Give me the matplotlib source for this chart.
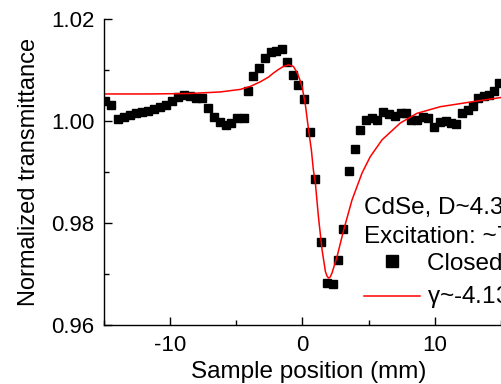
import matplotlib
matplotlib.use("Agg")
import matplotlib.pyplot as plt
from matplotlib.lines import Line2D
from matplotlib.ticker import MultipleLocator, FormatStrFormatter

plt.rcParams['font.family'] = ['Liberation Sans', 'DejaVu Sans']
plt.rcParams['axes.unicode_minus'] = False

# ---- measured points (closed aperture z-scan) ----
pos = [-14.94, -14.49, -13.96, -13.51, -13.06, -12.60, -12.15, -11.70, -11.25, -10.79,
       -10.34, -9.89, -9.43, -8.98, -8.53, -8.08, -7.62, -7.17, -6.72, -6.26,
       -5.81, -5.36, -4.91, -4.45, -4.08, -3.70, -3.25, -2.79, -2.34, -1.96,
       -1.51, -1.13, -0.68, -0.30, 0.15, 0.60, 0.98, 1.43, 1.89, 2.34,
       2.72, 3.09, 3.55, 4.00, 4.38, 4.83, 5.28, 5.66, 6.11, 6.57,
       7.02, 7.47, 7.85, 8.23, 8.68, 9.13, 9.51, 9.96, 10.42, 10.87,
       11.25, 11.62, 12.08, 12.53, 12.91, 13.28, 13.74, 14.11, 14.49, 14.87]
trans = [1.0039, 1.0031, 1.0004, 1.0008, 1.0012, 1.0016, 1.0018, 1.0020, 1.0024, 1.0028,
         1.0031, 1.0039, 1.0047, 1.0051, 1.0049, 1.0045, 1.0045, 1.0026, 1.0008, 0.9998,
         0.9992, 0.9996, 1.0006, 1.0006, 1.0059, 1.0088, 1.0104, 1.0124, 1.0135, 1.0137,
         1.0141, 1.0116, 1.0090, 1.0071, 1.0043, 0.9979, 0.9886, 0.9763, 0.9683, 0.9681,
         0.9728, 0.9788, 0.9902, 0.9945, 0.9982, 1.0002, 1.0006, 1.0002, 1.0018, 1.0014,
         1.0010, 1.0016, 1.0016, 1.0002, 1.0002, 1.0008, 1.0006, 0.9988, 0.9998, 1.0000,
         0.9996, 0.9994, 1.0016, 1.0022, 1.0029, 1.0045, 1.0049, 1.0051, 1.0059, 1.0075]

# ---- fitted curve ----
fit_pos = [-15.0, -11.47, -8.45, -6.19, -4.68, -3.92, -3.17, -2.57, -2.19, -1.81,
           -1.43, -1.06, -0.68, -0.38, -0.15, 0.0, 0.23, 0.45, 0.68, 0.83,
           0.98, 1.21, 1.49, 1.74, 1.86, 1.98, 2.10, 2.24, 2.62, 3.12,
           3.75, 4.51, 5.13, 6.02, 7.40, 8.66, 10.42, 12.91, 15.0, 16.0]
fit_trans = [1.0053, 1.0053, 1.0054, 1.0057, 1.0062, 1.0068, 1.0077, 1.0086, 1.0094, 1.0101,
             1.0107, 1.0110, 1.0107, 1.0094, 1.0078, 1.0064, 1.0031, 0.9986, 0.9943, 0.9904,
             0.9879, 0.9813, 0.9747, 0.9705, 0.9696, 0.9692, 0.9694, 0.9702, 0.9734, 0.9786,
             0.9845, 0.9898, 0.9930, 0.9963, 0.9996, 1.0015, 1.0028, 1.0038, 1.0046, 1.0048]

fig = plt.figure(figsize=(5.01, 3.84), dpi=100)
ax = fig.add_axes([104/501, 59/384, 410/501, 306/384])

ax.plot(pos, trans, 's', color='black', markersize=6, linestyle='none')
ax.plot(fit_pos, fit_trans, '-', color='red', linewidth=1.1)

ax.set_xlim(-15, 16)
ax.set_ylim(0.96, 1.02)
ax.xaxis.set_major_locator(MultipleLocator(10))
ax.xaxis.set_minor_locator(MultipleLocator(5))
ax.yaxis.set_major_locator(MultipleLocator(0.02))
ax.yaxis.set_minor_locator(MultipleLocator(0.01))
ax.yaxis.set_major_formatter(FormatStrFormatter('%.2f'))
ax.tick_params(which='major', direction='in', length=6, width=1.0, labelsize=16, pad=7)
ax.tick_params(which='minor', direction='in', length=3.5, width=1.0)
ax.spines['top'].set_visible(False)
ax.spines['right'].set_visible(False)
for s in ['left', 'bottom']:
    ax.spines[s].set_linewidth(1.0)

ax.set_xlabel('Sample position (mm)', fontsize=17.5, labelpad=4)
ax.set_ylabel('Normalized transmittance', fontsize=17, labelpad=8)

handles = [Line2D([], [], marker='s', color='black', linestyle='none', markersize=8.5),
           Line2D([], [], color='red', linewidth=1.1)]
labels = ['Closed aperture', 'γ~-4.13×10$^{-17}$ m$^2$/W']
leg = ax.legend(handles, labels, title='CdSe, D~4.3 nm\nExcitation: ~780 nm',
                loc='upper left', bbox_to_anchor=(352/501, 199/384),
                bbox_transform=fig.transFigure, frameon=False, fontsize=17.5,
                title_fontsize=17.5, alignment='left', borderpad=0,
                handlelength=2.3, handletextpad=0.3, labelspacing=0.2)
leg.get_title().set_linespacing(1.4)

fig.savefig('out.png', dpi=100)
